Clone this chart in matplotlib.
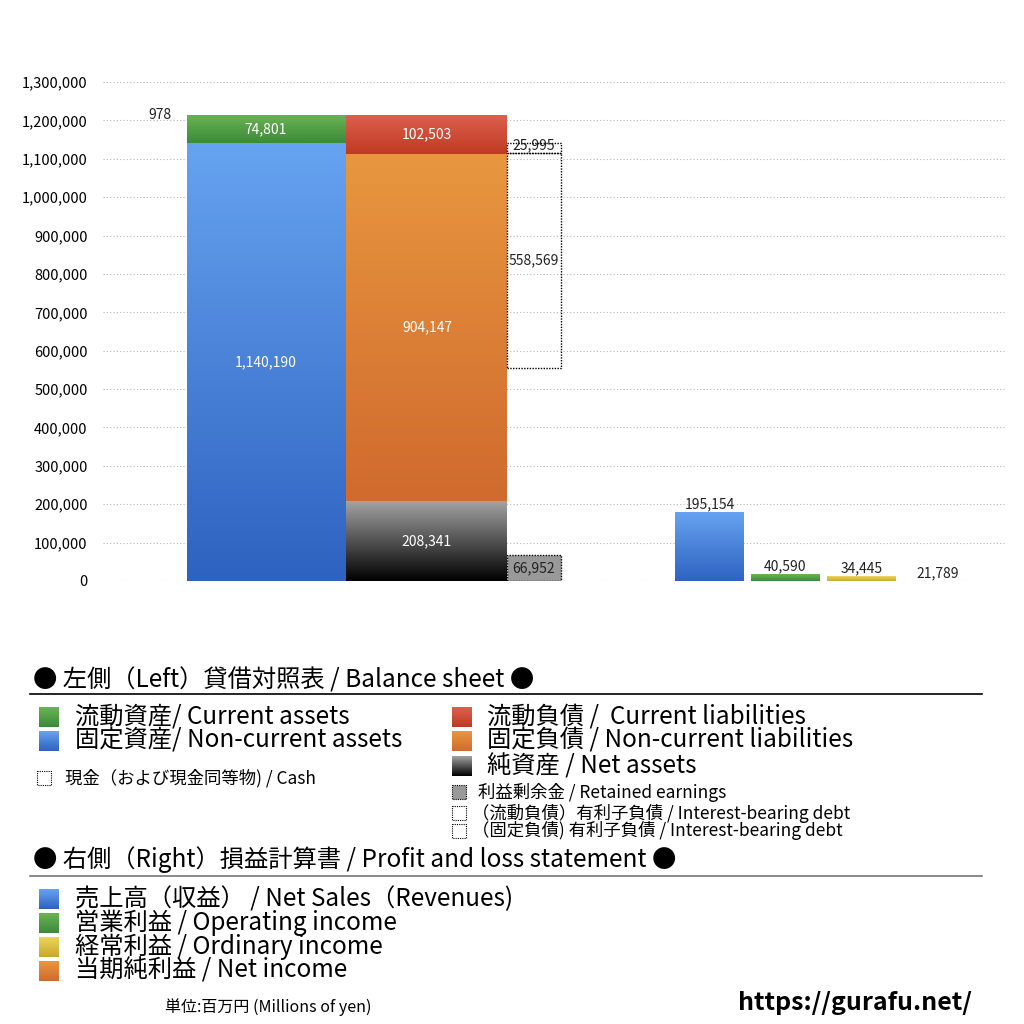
import numpy as np
import matplotlib
matplotlib.use("Agg")
import matplotlib.pyplot as plt
from matplotlib.colors import LinearSegmentedColormap
from matplotlib.patches import Rectangle

plt.rcParams['font.family'] = ['Noto Sans CJK JP', 'DejaVu Sans']

# 貸借対照表 (Millions of yen)
current_assets = 74801
noncurrent_assets = 1140190
cash = 978
current_liab = 102503
noncurrent_liab = 904147
net_assets = 208341
retained_earnings = 66952
debt_current = 25995
debt_noncurrent = 558569

# 損益計算書
pl_values = [195154, 40590, 34445, 21789]
pl_bar_heights = [179000, 18000, 13000, 0]   # heights as drawn in the picture
pl_colors = [('#66a3f0', '#2e62c0'), ('#6cb452', '#3b8a3c'),
             ('#ecd45a', '#c9a830'), ('#e8973f', '#d06a2e')]

yticks = np.arange(0, 1300001, 100000)

W = 1024
fig = plt.figure(figsize=(10.24, 10.24), dpi=100)
ax = fig.add_axes([103 / W, 1 - 581 / W, (1005 - 103) / W, (581 - 82) / W])
ax.set_xlim(103, 1005)
ax.set_ylim(0, 1300000)


def grad_bar(ax, x, w, bottom, h, ctop, cbot, z=2):
    bar = ax.bar(x, h, w, bottom=bottom, align='edge', facecolor='none',
                 edgecolor='none', zorder=z + 1)[0]
    cmap = LinearSegmentedColormap.from_list('g', [cbot, ctop])
    img = ax.imshow(np.linspace(0, 1, 256).reshape(-1, 1), cmap=cmap, origin='lower',
                    extent=(x, x + w, bottom, bottom + h), aspect='auto', zorder=z)
    img.set_clip_path(bar)
    return bar


# grid
for v in yticks:
    ax.axhline(v, color='#b8b8b8', lw=0.8, linestyle=(0, (1, 2)), zorder=0)
ax.set_yticks(yticks)
ax.set_yticklabels([f'{v:,}' for v in yticks], fontsize=10.5)
ax.tick_params(axis='y', length=0, pad=11)
ax.set_xticks([])
for s in ax.spines.values():
    s.set_visible(False)

total = noncurrent_assets + current_assets

# assets bar
grad_bar(ax, 187, 159, 0, noncurrent_assets, '#66a3f0', '#2e62c0')
grad_bar(ax, 187, 159, noncurrent_assets, current_assets, '#6cb452', '#3b8a3c')
# cash (too small to see)
ax.bar(133, cash, 54, bottom=total - cash, align='edge', facecolor='none', edgecolor='none')
# liabilities bar
grad_bar(ax, 346, 161, 0, net_assets, '#a3a3a3', '#000000')
grad_bar(ax, 346, 161, net_assets, noncurrent_liab, '#e8973f', '#d06a2e')
grad_bar(ax, 346, 161, net_assets + noncurrent_liab, current_liab, '#dc6150', '#bf3a22')
# retained earnings & interest-bearing debt
ax.bar(507, retained_earnings, 54, align='edge', facecolor='#999999',
       edgecolor='black', linestyle=(0, (1, 1)), lw=1.0, zorder=3)
debt_base = noncurrent_assets - debt_noncurrent - debt_current
ax.bar(507, debt_noncurrent, 54, bottom=debt_base, align='edge', facecolor='none',
       edgecolor='black', linestyle=(0, (1, 1)), lw=1.0, zorder=3)
ax.bar(507, debt_current, 54, bottom=debt_base + debt_noncurrent, align='edge',
       facecolor='none', edgecolor='black', linestyle=(0, (1, 1)), lw=1.0, zorder=3)

lab = dict(ha='center', va='center', fontsize=10)
ax.text(266, noncurrent_assets / 2, f'{noncurrent_assets:,}', color='white', **lab)
ax.text(266, noncurrent_assets + current_assets / 2, f'{current_assets:,}', color='white', **lab)
ax.text(160, total - cash / 2, f'{cash:,}', color='#222222', **lab)
ax.text(427, net_assets / 2, f'{net_assets:,}', color='white', **lab)
ax.text(427, net_assets + noncurrent_liab / 2, f'{noncurrent_liab:,}', color='white', **lab)
ax.text(427, net_assets + noncurrent_liab + current_liab / 2, f'{current_liab:,}', color='white', **lab)
ax.text(534, retained_earnings / 2, f'{retained_earnings:,}', color='#222222', **lab)
ax.text(534, debt_base + debt_noncurrent / 2, f'{debt_noncurrent:,}', color='#222222', **lab)
ax.text(534, debt_base + debt_noncurrent + debt_current / 2 + 8000, f'{debt_current:,}',
        color='#222222', **lab)

pl_x = [675, 751, 827, 903]
for x, v, h, (ct, cb) in zip(pl_x, pl_values, pl_bar_heights, pl_colors):
    if h > 0:
        grad_bar(ax, x, 69, 0, h, ct, cb)
    ax.text(x + 34.5, h + 3000, f'{v:,}', ha='center', va='bottom', fontsize=10, color='#222222')

# ---- legend area, drawn in pixel coordinates ----
lg = fig.add_axes([0, 0, 1, 1])
lg.set_xlim(0, W)
lg.set_ylim(W, 0)
lg.axis('off')


def sw(x, y, s, ctop, cbot):
    r = Rectangle((x, y - s / 2), s, s, facecolor='none', edgecolor='none')
    lg.add_patch(r)
    cmap = LinearSegmentedColormap.from_list('g', [cbot, ctop])
    img = lg.imshow(np.linspace(0, 1, 64).reshape(-1, 1), cmap=cmap, origin='lower',
                    extent=(x, x + s, y + s / 2, y - s / 2), aspect='auto')
    img.set_clip_path(r)


def dsw(x, y, s, fc='none'):
    lg.add_patch(Rectangle((x, y - s / 2), s, s, facecolor=fc, edgecolor='black',
                           linestyle=(0, (1, 1)), lw=0.8))


big = 17.5
small = 12.5
lg.text(33, 680, '● 左側（Left）貸借対照表 / Balance sheet ●', fontsize=big, va='center')
lg.plot([30, 982], [694, 694], color='black', lw=1.2)

sw(39, 717, 20, '#6cb452', '#3b8a3c')
lg.text(75, 717, '流動資産/ Current assets', fontsize=big, va='center')
sw(39, 741, 20, '#66a3f0', '#2e62c0')
lg.text(75, 741, '固定資産/ Non-current assets', fontsize=big, va='center')
dsw(37, 778, 14)
lg.text(65, 778, '現金（および現金同等物) / Cash', fontsize=small, va='center')

sw(452, 717, 20, '#dc6150', '#bf3a22')
lg.text(487, 717, '流動負債 /  Current liabilities', fontsize=big, va='center')
sw(452, 741, 20, '#e8973f', '#d06a2e')
lg.text(487, 741, '固定負債 / Non-current liabilities', fontsize=big, va='center')
sw(452, 766, 20, '#a3a3a3', '#000000')
lg.text(487, 766, '純資産 / Net assets', fontsize=big, va='center')
dsw(452, 792, 14, fc='#999999')
lg.text(478, 792, '利益剰余金 / Retained earnings', fontsize=small, va='center')
dsw(452, 813, 14)
lg.text(472, 813, '（流動負債）有利子負債 / Interest-bearing debt', fontsize=small, va='center')
dsw(452, 831, 14)
lg.text(472, 831, '（固定負債) 有利子負債 / Interest-bearing debt', fontsize=small, va='center')

lg.text(33, 860, '● 右側（Right）損益計算書 / Profit and loss statement ●', fontsize=big, va='center')
lg.plot([30, 982], [876, 876], color='#777777', lw=1.2)
pl_names = ['売上高（収益） / Net Sales（Revenues)', '営業利益 / Operating income',
            '経常利益 / Ordinary income', '当期純利益 / Net income']
for i, (name, (ct, cb)) in enumerate(zip(pl_names, pl_colors)):
    y = 899 + i * 24
    sw(39, y, 20, ct, cb)
    lg.text(75, y, name, fontsize=big, va='center')

lg.text(165, 1007, '単位:百万円 (Millions of yen)', fontsize=11.5, va='center')
lg.text(972, 1003, 'https://gurafu.net/', fontsize=18, fontweight='bold', va='center', ha='right')

fig.savefig('out.png', dpi=100)
